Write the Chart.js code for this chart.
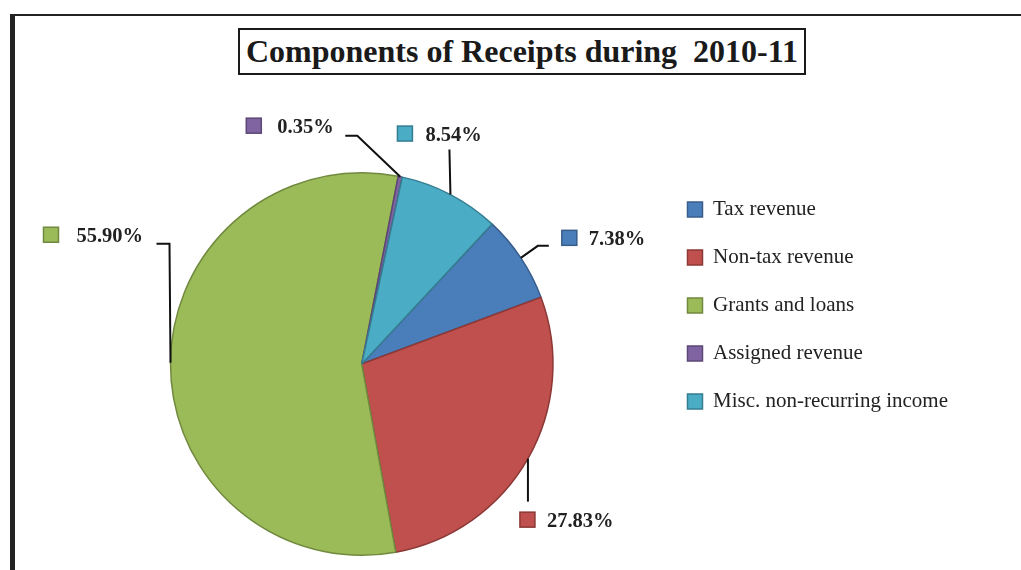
<!DOCTYPE html>
<html lang="en">
<head>
    <meta charset="UTF-8">
    <title>Components of Receipts during 2010-11</title>
    <script src="https://cdn.jsdelivr.net/npm/chart.js"></script>
    <style>
        body { margin: 0; background: #fff; }
        .wrap { position: relative; width: 1021px; height: 570px; overflow: hidden; }
        .frame {
            position: absolute; left: 10px; top: 14px; width: 1030px; height: 600px;
            border-left: 5px solid #222; border-top: 2px solid #222;
        }
        .title {
            position: absolute; left: 238px; top: 28px; width: 564px; height: 43px;
            border: 2px solid #1a1a1a; text-align: center;
            font: bold 32px "Liberation Serif", serif; line-height: 43px; color: #1a1a1a;
            white-space: pre;
        }
        canvas { position: absolute; left: 0; top: 0; }
    </style>
</head>
<body>
    <div class="wrap">
        <div class="frame"></div>
        <div class="title">Components of Receipts during  2010-11</div>
        <canvas id="pieChart" width="1021" height="570"></canvas>
    </div>

    <script>
        // data (percent of total receipts)
        const categories = ['Tax revenue', 'Non-tax revenue', 'Grants and loans', 'Assigned revenue', 'Misc. non-recurring income'];
        const shares = [7.38, 27.83, 55.90, 0.35, 8.54];
        const fillColors = ['#4a7ebb', '#c0504d', '#9bbb59', '#8064a2', '#4bacc6'];
        const edgeColors = ['#385d8a', '#8c3836', '#71893f', '#5c4776', '#357d91'];

        // leader line bends + label spot, relative to the slice's outer mid point
        const labelLayout = [
            { line: [[17, -12], [28, -12]], box: [41, -20], textGap: 27 },
            { line: [[0, 43]], box: [-8, 61], textGap: 27 },
            { line: [[-1, -119], [-14, -119]], box: [-127, -128], textGap: 33 },
            { line: [[-43, -41], [-55, -41]], box: [-154, -51], textGap: 31 },
            { line: [[-1, -45]], box: [-53, -61], textGap: 28 }
        ];

        const sliceLabels = {
            id: 'sliceLabels',
            afterDatasetsDraw(chart) {
                const ctx = chart.ctx;
                const arcs = chart.getDatasetMeta(0).data;
                ctx.save();
                arcs.forEach((arc, i) => {
                    const mid = (arc.startAngle + arc.endAngle) / 2;
                    const ax = arc.x + Math.cos(mid) * arc.outerRadius;
                    const ay = arc.y + Math.sin(mid) * arc.outerRadius;
                    const lay = labelLayout[i];

                    ctx.strokeStyle = '#111';
                    ctx.lineWidth = 2;
                    ctx.beginPath();
                    ctx.moveTo(ax, ay);
                    lay.line.forEach(p => ctx.lineTo(ax + p[0], ay + p[1]));
                    ctx.stroke();

                    const bx = ax + lay.box[0];
                    const by = ay + lay.box[1];
                    ctx.fillStyle = fillColors[i];
                    ctx.fillRect(bx, by - 7.5, 15, 15);
                    ctx.strokeStyle = edgeColors[i];
                    ctx.lineWidth = 1.5;
                    ctx.strokeRect(bx, by - 7.5, 15, 15);

                    ctx.fillStyle = '#222';
                    ctx.font = 'bold 20.5px "Liberation Serif"';
                    ctx.textBaseline = 'middle';
                    ctx.textAlign = 'left';
                    ctx.fillText(shares[i].toFixed(2) + '%', bx + lay.textGap, by + 2);
                });
                ctx.restore();
            }
        };

        new Chart(document.getElementById('pieChart'), {
            type: 'pie',
            data: {
                labels: categories,
                datasets: [{
                    data: shares,
                    backgroundColor: fillColors,
                    borderColor: edgeColors,
                    borderWidth: 1.5
                }]
            },
            options: {
                responsive: false,
                animation: false,
                devicePixelRatio: 1,
                rotation: 43,
                layout: { padding: { top: 172, bottom: 14, left: 63, right: 63 } },
                plugins: {
                    title: { display: false },
                    tooltip: { enabled: false },
                    legend: {
                        position: 'right',
                        align: 'start',
                        labels: {
                            boxWidth: 15,
                            boxHeight: 15,
                            padding: 27,
                            color: '#222',
                            font: { family: '"Liberation Serif"', size: 21 }
                        }
                    }
                }
            },
            plugins: [sliceLabels]
        });
    </script>
</body>
</html>
